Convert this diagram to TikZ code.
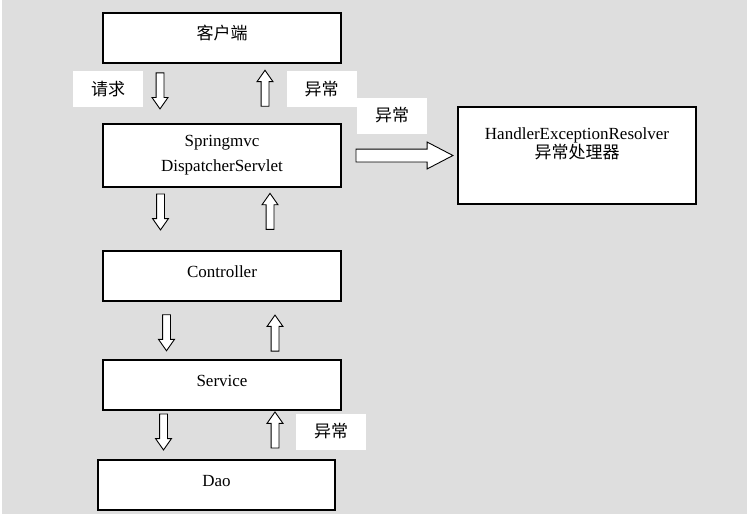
\documentclass[tikz,border=0pt]{standalone}
\usepackage{fontspec}
\setmainfont{Liberation Serif}
\newfontfamily\cjk{Noto Sans CJK SC}
\usetikzlibrary{shapes.arrows}
\definecolor{bggray}{RGB}{222,222,222}

\begin{document}
\begin{tikzpicture}[x=1pt,y=-1pt,
    box/.style={draw,fill=white,line width=1.2pt,minimum width=238pt,minimum height=50pt,inner sep=0pt,font=\fontsize{17}{25}\selectfont},
    layer/.style={box,text height=12pt,text depth=8.8pt},
    tag/.style={fill=white,minimum width=70pt,minimum height=36pt,inner sep=0pt,font=\cjk\fontsize{17}{20}\selectfont},
    blockarr/.style={draw,fill=white,line width=0.9pt,single arrow,anchor=tail,inner xsep=0pt,inner ysep=3.5pt,minimum height=36pt,single arrow head extend=4pt,single arrow tip angle=70},
    downarr/.style={blockarr,rotate=-90},
    uparr/.style={blockarr,rotate=90}]
\useasboundingbox (0,0) rectangle (749,519);
\fill[bggray] (2,0) rectangle (747,514);

% labels
\node[tag] (req) at (108,89) {请求};
\node[tag] (exc1) at (321.5,89) {异常};
\node[tag] (exc2) at (392,115.5) {异常};
\node[tag] (exc3) at (331,431.5) {异常};

% layers
\node[layer] (client) at (222,38) {\cjk 客户端};
\node[box,minimum height=63pt,align=center] (servlet) at (222,155.5) {Springmvc\\DispatcherServlet};
\node[layer] (controller) at (222,276) {Controller};
\node[layer] (service) at (222,385) {Service};
\node[layer,line width=1.8pt,minimum width=237pt] (dao) at (216.5,485) {Dao};
\node[box,minimum height=97pt,label={[align=center,anchor=north,yshift=-18pt,font=\fontsize{17}{19}\selectfont]north:{HandlerExceptionResolver\\{\cjk 异常处理器}}}] (resolver) at (577,155.5) {};

% request / exception flow
\path ([xshift=-62pt]client.south) -- ([xshift=-62pt]servlet.north) node[pos=.148,downarr] (d1) {};
\path ([xshift=43pt]servlet.north) -- ([xshift=43pt]client.south) node[pos=.279,uparr] (u1) {};
\path ([xshift=-61.5pt]servlet.south) -- ([xshift=-61.5pt]controller.north) node[pos=.094,downarr] (d2) {};
\path ([xshift=48pt]controller.north) -- ([xshift=48pt]servlet.south) node[pos=.328,uparr] (u2) {};
\path ([xshift=-55.5pt]controller.south) -- ([xshift=-55.5pt]service.north) node[pos=.22,downarr] (d3) {};
\path ([xshift=53pt]service.north) -- ([xshift=53pt]controller.south) node[pos=.136,uparr] (u3) {};
\path ([xshift=-58.5pt]service.south) -- ([xshift=-58.5pt]service.south |- dao.north) node[pos=.06,downarr] (d4) {};
\path ([xshift=53pt]service.south |- dao.north) -- ([xshift=53pt]service.south) node[pos=.22,uparr] (u4) {};
\path (servlet.east) -- (resolver.west) node[pos=.12,blockarr,inner ysep=6pt,minimum height=97pt,single arrow head extend=7pt,single arrow tip angle=55] (toresolver) {};
\end{tikzpicture}
\end{document}
